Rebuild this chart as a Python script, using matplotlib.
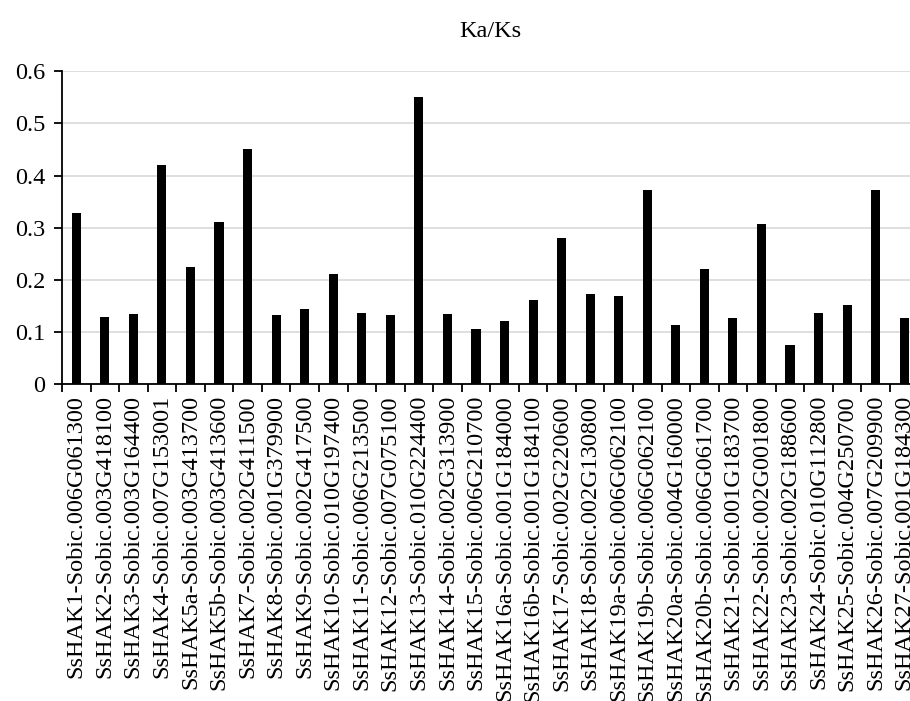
import matplotlib
matplotlib.use("Agg")
import matplotlib.pyplot as plt
from matplotlib.ticker import FuncFormatter, MultipleLocator
import numpy as np

genes = ["SsHAK1", "SsHAK2", "SsHAK3", "SsHAK4", "SsHAK5a", "SsHAK5b", "SsHAK7",
         "SsHAK8", "SsHAK9", "SsHAK10", "SsHAK11", "SsHAK12", "SsHAK13", "SsHAK14",
         "SsHAK15", "SsHAK16a", "SsHAK16b", "SsHAK17", "SsHAK18", "SsHAK19a",
         "SsHAK19b", "SsHAK20a", "SsHAK20b", "SsHAK21", "SsHAK22", "SsHAK23",
         "SsHAK24", "SsHAK25", "SsHAK26", "SsHAK27"]
sobic = ["006G061300", "003G418100", "003G164400", "007G153001", "003G413700",
         "003G413600", "002G411500", "001G379900", "002G417500", "010G197400",
         "006G213500", "007G075100", "010G224400", "002G313900", "006G210700",
         "001G184000", "001G184100", "002G220600", "002G130800", "006G062100",
         "006G062100", "004G160000", "006G061700", "001G183700", "002G001800",
         "002G188600", "010G112800", "004G250700", "007G209900", "001G184300"]
ka_ks = [0.328, 0.129, 0.134, 0.420, 0.224, 0.310, 0.451, 0.132, 0.143, 0.212,
         0.136, 0.132, 0.550, 0.134, 0.105, 0.120, 0.161, 0.280, 0.172, 0.168,
         0.372, 0.113, 0.221, 0.127, 0.307, 0.075, 0.136, 0.152, 0.372, 0.127]

labels = [g + "-Sobic." + s for g, s in zip(genes, sobic)]

plt.rcParams["font.family"] = ["Liberation Serif", "DejaVu Serif"]
fs = 17.5

fig = plt.figure(figsize=(9.1, 7.01), dpi=100)
# axes runs a little past the right edge, labels past the bottom, like the source crop
ax = fig.add_axes([62 / 910, 317 / 701, 856.5 / 910, 312.7 / 701])

x = np.arange(len(ka_ks))
ax.bar(x, ka_ks, width=0.32, color="black", zorder=3)

ax.set_xlim(-0.5, len(ka_ks) - 0.5)
ax.set_ylim(0, 0.6)
ax.yaxis.set_major_locator(MultipleLocator(0.1))
ax.yaxis.set_major_formatter(FuncFormatter(lambda v, p: "0" if abs(v) < 1e-9 else f"{v:.1f}"))
ax.grid(axis="y", color="#d9d9d9", linewidth=1.2, zorder=0)

ax.set_xticks(x)
ax.set_xticklabels(labels, rotation=90, fontsize=fs)
ax.set_xticks(np.arange(-0.5, len(ka_ks)), minor=True)
ax.tick_params(axis="x", which="major", length=0, pad=8)
ax.tick_params(axis="x", which="minor", length=6, width=1.3, color="black")
ax.tick_params(axis="y", length=6, width=1.3, labelsize=fs, pad=6)

for side in ["top", "right"]:
    ax.spines[side].set_visible(False)
ax.spines["left"].set_linewidth(1.3)
ax.spines["bottom"].set_linewidth(1.3)

ax.set_title("Ka/Ks", fontsize=fs, pad=25)

fig.savefig("out.png", dpi=100)
